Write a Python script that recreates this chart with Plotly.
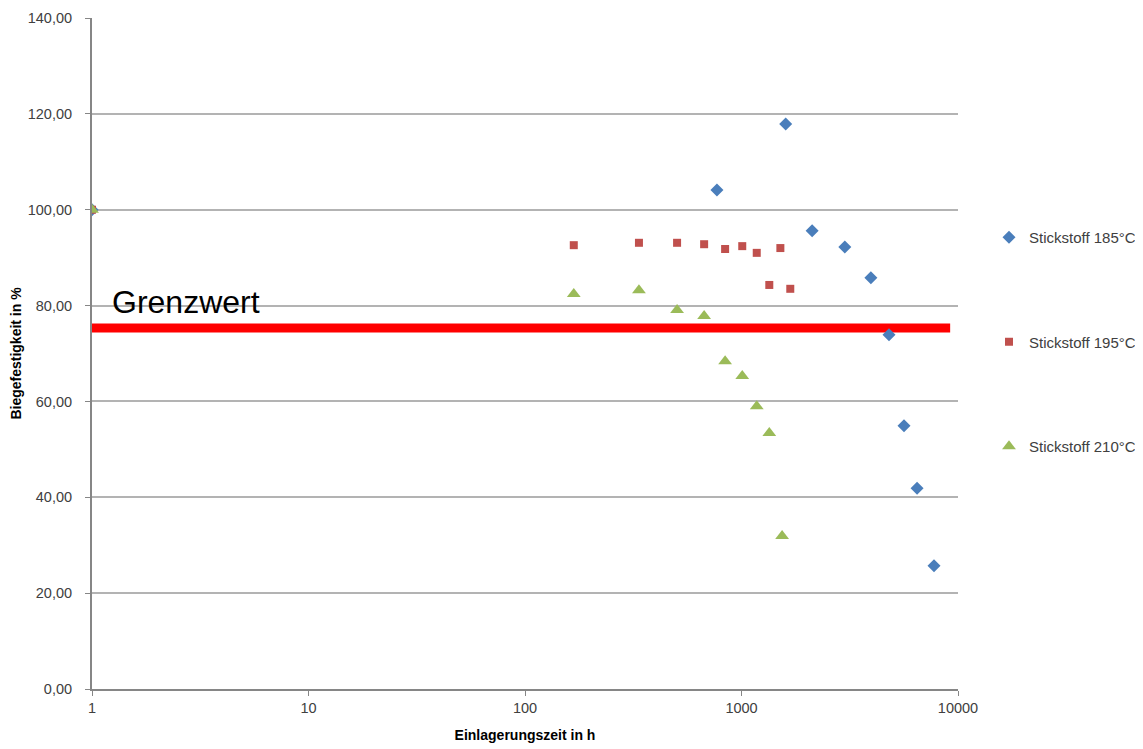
import plotly.graph_objects as go

# Data (hours, relative flexural strength in %)
x_185 = [1, 770, 1600, 2120, 3000, 3960, 4800, 5630, 6470, 7750]
y_185 = [100.0, 104.1, 117.9, 95.6, 92.2, 85.8, 73.9, 54.9, 41.9, 25.7]

x_195 = [1, 168, 336, 504, 672, 840, 1008, 1176, 1344, 1512, 1680]
y_195 = [100.0, 92.6, 93.1, 93.1, 92.8, 91.8, 92.4, 91.0, 84.3, 92.0, 83.5]

x_210 = [1, 168, 336, 504, 672, 840, 1008, 1176, 1344, 1540]
y_210 = [100.0, 82.4, 83.2, 79.1, 77.8, 68.4, 65.3, 59.0, 53.4, 31.9]

limit_x = [1, 9200]
limit_y = [75.3, 75.3]

x_tickvals = [1, 10, 100, 1000, 10000]
x_ticktext = ["1", "10", "100", "1000", "10000"]
y_tickvals = [0, 20, 40, 60, 80, 100, 120, 140]

names = ["Stickstoff 185°C", "Stickstoff 195°C", "Stickstoff 210°C"]
colors = ["#4A7EBB", "#C0504D", "#9BBB59"]

FONT = "Liberation Sans, Arial, sans-serif"

# page body has an 8px margin; layout is compensated for it
L, R, T, B = 84, 193, 10, 68
PW, PH = 1143 - L - R, 749 - T - B

fig = go.Figure()

fig.add_trace(go.Scatter(x=limit_x, y=limit_y, mode="lines",
                         line=dict(color="#FF0000", width=9),
                         showlegend=False, hoverinfo="skip"))

fig.add_trace(go.Scatter(x=x_185, y=y_185, mode="markers", name=names[0],
                         legendgroup="a",
                         marker=dict(symbol="diamond", size=10, color=colors[0])))
fig.add_trace(go.Scatter(x=x_195, y=y_195, mode="markers", name=names[1],
                         legendgroup="b",
                         marker=dict(symbol="square", size=8, color=colors[1])))
fig.add_trace(go.Scatter(x=x_210, y=y_210, mode="markers", name=names[2],
                         legendgroup="c",
                         marker=dict(symbol="triangle-up", size=12, color=colors[2])))

fig.add_annotation(text="Grenzwert", xref="paper", yref="paper",
                   x=(178 - L) / PW, y=(749 - B - 294) / PH,
                   showarrow=False, xanchor="center", yanchor="middle",
                   font=dict(family=FONT, size=32, color="#000000"))

fig.update_layout(
    width=1143, height=749,
    margin=dict(l=L, r=R, t=T, b=B, autoexpand=False),
    paper_bgcolor="white", plot_bgcolor="white",
    separators=",.",
    font=dict(family=FONT, size=14.5, color="#404040"),
    legend=dict(xref="container", yref="container",
                x=981 / 1143, y=1 - 213 / 749, xanchor="left", yanchor="top",
                tracegroupgap=82, font=dict(size=15, color="#404040"),
                bgcolor="rgba(0,0,0,0)"),
    xaxis=dict(type="log", range=[0, 4], tickvals=x_tickvals, ticktext=x_ticktext,
               showgrid=False, showline=True, linecolor="#868686", linewidth=2,
               ticks="outside", ticklen=5, tickcolor="#868686",
               tickfont=dict(size=14.5, color="#404040"),
               title=dict(text="<b>Einlagerungszeit in h</b>", standoff=15,
                          font=dict(size=14, color="#000000")),
               zeroline=False, automargin=False),
    yaxis=dict(range=[0, 140], tickvals=y_tickvals, tickformat=".2f",
               showgrid=True, gridcolor="#B3B3B3", gridwidth=1.5,
               showline=True, linecolor="#868686", linewidth=2,
               ticks="outside", ticklen=5, tickcolor="#868686",
               ticklabelstandoff=10,
               tickfont=dict(size=14.5, color="#404040"),
               title=dict(text="<b>Biegefestigkeit in %</b>", standoff=3,
                          font=dict(size=14, color="#000000")),
               zeroline=False, automargin=False),
)

fig.write_html("out.html")
